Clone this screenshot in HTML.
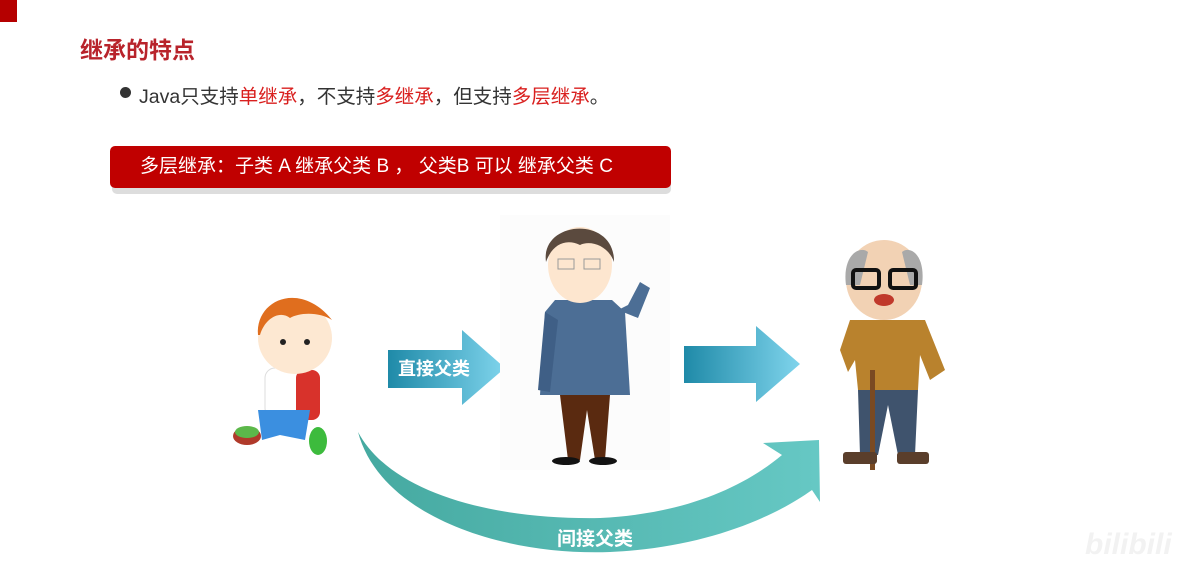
<!DOCTYPE html>
<html><head><meta charset="utf-8"><style>
body{margin:0;width:1194px;height:565px;background:#fff;position:relative;overflow:hidden;font-family:"Liberation Sans","Noto Sans CJK SC",sans-serif}
.abs{position:absolute}
</style></head><body>
<div class="abs" style="left:0;top:0;width:17px;height:22px;background:#b50000"></div>
<div class="abs" style="left:80px;top:31px;font-size:23px;font-weight:bold;color:#b8232b">继承的特点</div>
<div class="abs" style="left:120px;top:87px;width:11px;height:11px;border-radius:50%;background:#333"></div>
<div class="abs" style="left:139px;top:80px;font-size:19.5px;color:#333;white-space:nowrap">Java只支持<span style="color:#d9201f">单继承</span>，不支持<span style="color:#d9201f">多继承</span>，但支持<span style="color:#d9201f">多层继承</span>。</div>
<div class="abs" style="left:112px;top:152px;width:559px;height:42px;border-radius:5px;background:#ddd"></div>
<div class="abs" style="left:110px;top:146px;width:561px;height:42px;border-radius:5px;background:#c00000;color:#fff;font-size:19px;line-height:42px;box-sizing:border-box;padding-left:30px;white-space:nowrap">多层继承：子类 A 继承父类 B ， 父类B 可以 继承父类 C</div>

<svg class="abs" style="left:0;top:0" width="1194" height="565">
<defs>
<linearGradient id="ag" x1="0" x2="1"><stop offset="0" stop-color="#1f8aa8"/><stop offset="1" stop-color="#7fd4ec"/></linearGradient>
<linearGradient id="cg" x1="0" x2="1"><stop offset="0" stop-color="#45a9a0"/><stop offset="1" stop-color="#66c8c4"/></linearGradient>
</defs>
<g>
<path d="M388,350 L462,350 L462,330 L505,368 L462,405 L462,388 L388,388 Z" fill="url(#ag)"/>
<text x="398" y="375" font-size="18" font-weight="bold" fill="#fff" font-family="Liberation Sans,Noto Sans CJK SC,sans-serif">直接父类</text>
</g>
<path d="M684,346 L756,346 L756,326 L800,364 L756,402 L756,383 L684,383 Z" fill="url(#ag)"/>
<g>
<path d="M358,432 C380,515 500,556 610,552 C700,548 770,520 812,490 L820,502 L819,440 L763,443 L782,455 C740,490 680,514 600,518 C490,520 390,492 358,432 Z" fill="url(#cg)"/>
<text x="557" y="545" font-size="19" font-weight="bold" fill="#fff" font-family="Liberation Sans,Noto Sans CJK SC,sans-serif">间接父类</text>
</g>
<g>
<rect x="265" y="368" width="48" height="50" rx="10" fill="#fff" stroke="#ddd"/>
<rect x="296" y="370" width="24" height="50" rx="8" fill="#d8322b"/>
<path d="M258,410 L310,410 L305,440 L280,435 L262,440 Z" fill="#3b8fe0"/>
<ellipse cx="247" cy="436" rx="14" ry="9" fill="#b03a2a"/>
<ellipse cx="247" cy="432" rx="12" ry="6" fill="#5cb84a"/>
<ellipse cx="318" cy="441" rx="9" ry="14" fill="#3dbb3d"/>
<ellipse cx="295" cy="338" rx="37" ry="36" fill="#fde8d2"/>
<path d="M258,335 C255,300 300,280 332,320 C320,312 300,312 290,318 C280,310 265,318 260,335 Z" fill="#e06e1e"/>
<circle cx="283" cy="342" r="3" fill="#222"/><circle cx="307" cy="342" r="3" fill="#222"/>
</g>
<g>
<rect x="500" y="215" width="170" height="255" fill="#fcfcfc"/>
<path d="M555,300 L612,300 L625,312 L630,395 L540,395 L545,312 Z" fill="#4c6e95"/>
<path d="M545,312 L538,390 L550,392 L558,320 Z" fill="#3f5f86"/>
<path d="M618,310 L638,318 L650,288 L640,282 L628,305 Z" fill="#4c6e95"/>
<path d="M560,395 L610,395 L605,460 L595,460 L587,410 L580,460 L568,460 Z" fill="#5a2a10"/>
<ellipse cx="566" cy="461" rx="14" ry="4" fill="#111"/><ellipse cx="603" cy="461" rx="14" ry="4" fill="#111"/>
<ellipse cx="580" cy="265" rx="32" ry="38" fill="#fde6cf"/>
<path d="M546,262 C540,220 615,215 614,262 C608,245 590,240 580,245 C565,238 552,245 546,262 Z" fill="#5b4a3e"/>
<rect x="558" y="259" width="16" height="10" fill="none" stroke="#999"/><rect x="584" y="259" width="16" height="10" fill="none" stroke="#999"/>
</g>
<g>
<path d="M850,320 L925,320 L945,370 L930,380 L920,355 L918,390 L858,390 L855,360 L848,372 L840,350 Z" fill="#b9822d"/>
<path d="M858,390 L918,390 L915,455 L898,455 L888,405 L878,455 L860,455 Z" fill="#3f536d"/>
<rect x="870" y="370" width="5" height="100" fill="#7a4a22"/>
<rect x="843" y="452" width="34" height="12" rx="3" fill="#5a3e2b"/><rect x="897" y="452" width="32" height="12" rx="3" fill="#5a3e2b"/>
<ellipse cx="884" cy="280" rx="38" ry="40" fill="#f2d2b4"/>
<path d="M846,285 C842,255 860,245 868,252 L860,285 Z M922,285 C926,255 910,245 902,252 L910,285 Z" fill="#a9a9a9"/>
<rect x="853" y="270" width="26" height="18" rx="3" fill="none" stroke="#111" stroke-width="4"/>
<rect x="890" y="270" width="26" height="18" rx="3" fill="none" stroke="#111" stroke-width="4"/>
<ellipse cx="884" cy="300" rx="10" ry="6" fill="#c0392b"/>
</g>
</svg>
<div class="abs" style="left:1085px;top:528px;font-size:30px;font-weight:bold;color:#f2f2f2;font-style:italic">bilibili</div>
</body></html>
